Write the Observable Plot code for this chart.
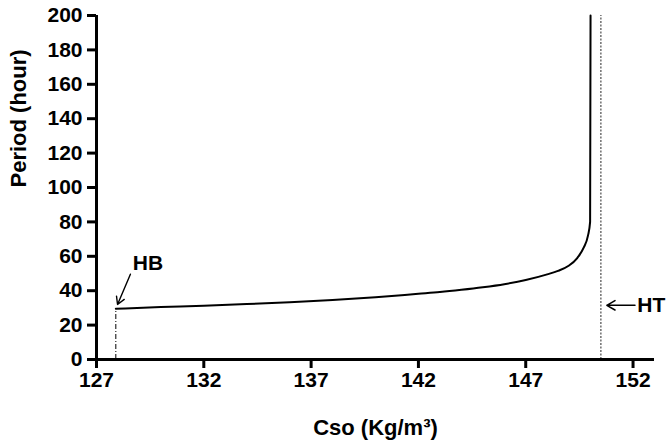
<!DOCTYPE html>
<html>
<head>
<meta charset="utf-8">
<script src="https://cdn.jsdelivr.net/npm/d3@7"></script>
<script src="https://cdn.jsdelivr.net/npm/@observablehq/plot@0.6"></script>
<style>
  html, body { margin: 0; padding: 0; background: #fff; }
  #chart svg { font-family: "Liberation Sans", Arial, sans-serif; font-weight: bold; }
</style>
</head>
<body>
<div id="chart"></div>
<script>
// Oscillation period versus feed substrate concentration
const cso    = [127.9, 130, 132, 134, 136, 138, 140, 142, 143, 144, 145, 146, 147, 148, 148.5, 149, 149.4, 149.7, 149.9, 150.0, 150.02];
const period = [29.5, 30.5, 31.3, 32.2, 33.3, 34.6, 36.2, 38.2, 39.2, 40.5, 42, 43.8, 46.2, 49.5, 51.5, 54.5, 59, 65, 72, 80, 200];

// Hopf bifurcation points
const hbCso = 127.9;
const hbPeriod = 29.5;
const htCso = 150.5;

const xTicks = [127, 132, 137, 142, 147, 152];
const yTicks = [0, 20, 40, 60, 80, 100, 120, 140, 160, 180, 200];

const curve = cso.map((c, i) => ({c, p: period[i]}));

const chart = Plot.plot({
  width: 667,
  height: 447,
  marginLeft: 96,
  marginRight: 13,
  marginTop: 15,
  marginBottom: 88,
  x: {domain: [127, 153]},
  y: {domain: [0, 200]},
  marks: [
    Plot.axisX(xTicks, {tickSize: 9, strokeWidth: 3, tickPadding: 4, fontSize: 21, fontWeight: "bold", label: null}),
    Plot.axisY(yTicks, {tickSize: 9, strokeWidth: 3, tickPadding: 5, fontSize: 21, fontWeight: "bold", label: null}),
    Plot.text(["Period (hour)"], {frameAnchor: "left", rotate: -90, dx: -78, fontSize: 22, fontWeight: "bold"}),
    Plot.text(["Cso (Kg/m³)"], {frameAnchor: "bottom", dy: 75, fontSize: 22, fontWeight: "bold"}),
    // HB and HT markers
    Plot.ruleX([hbCso], {y1: 0, y2: hbPeriod, stroke: "#000", strokeWidth: 1, strokeDasharray: "5,2,1,2"}),
    Plot.ruleX([htCso], {y1: 0, y2: 200, stroke: "#777", strokeWidth: 1.6, strokeDasharray: "2,1.5"}),
    Plot.line(curve, {x: "c", y: "p", curve: "monotone-x", stroke: "#000", strokeWidth: 2}),
    Plot.arrow([{x1: 128.58, y1: 49.6, x2: 127.98, y2: 32}], {x1: "x1", y1: "y1", x2: "x2", y2: "y2", stroke: "#000", strokeWidth: 1.4, headLength: 9}),
    Plot.text(["HB"], {x: 129.4, y: 56, fontSize: 21, fontWeight: "bold"}),
    Plot.arrow([{x1: 152.09, y1: 31.5, x2: htCso + 0.28, y2: 31.5}], {x1: "x1", y1: "y1", x2: "x2", y2: "y2", stroke: "#000", strokeWidth: 1.6, headLength: 9}),
    Plot.text(["HT"], {x: 152.2, y: 31.5, textAnchor: "start", fontSize: 21, fontWeight: "bold"}),
    // axis lines
    Plot.ruleY([0], {x1: 127, x2: 153, stroke: "#000", strokeWidth: 3}),
    Plot.ruleX([127], {y1: 0, y2: 200, stroke: "#000", strokeWidth: 3})
  ]
});
document.getElementById("chart").appendChild(chart);
</script>
</body>
</html>
